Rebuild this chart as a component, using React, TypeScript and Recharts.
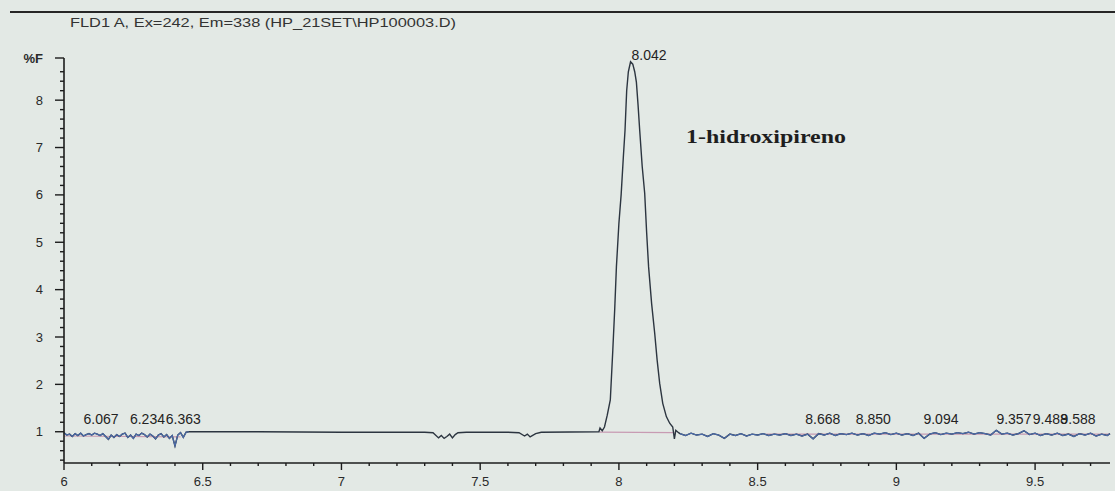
import React from "react";
import { ComposedChart, Line, Scatter, XAxis, YAxis } from "recharts";

// retention time (min) / fluorescence (%F)
const leftNoise = [
  [6.0, 0.98], [6.01, 0.93], [6.02, 0.95], [6.03, 0.9], [6.04, 0.96], [6.05, 0.92],
  [6.06, 0.97], [6.07, 0.91], [6.08, 0.94], [6.09, 0.96], [6.1, 0.93], [6.11, 0.97],
  [6.12, 0.95], [6.13, 0.92], [6.14, 0.96], [6.15, 0.9], [6.16, 0.84], [6.17, 0.93],
  [6.18, 0.88], [6.19, 0.94], [6.2, 0.9], [6.21, 0.95], [6.22, 0.97], [6.23, 0.88],
  [6.24, 0.93], [6.25, 0.86], [6.26, 0.95], [6.27, 0.92], [6.28, 0.97], [6.29, 0.94],
  [6.3, 0.89], [6.31, 0.95], [6.32, 0.91], [6.33, 0.85], [6.34, 0.93], [6.35, 0.96],
  [6.36, 0.89], [6.37, 0.94], [6.38, 0.86], [6.39, 0.92], [6.4, 0.7], [6.41, 0.93],
  [6.42, 0.98], [6.43, 0.88], [6.44, 0.99], [6.45, 1.0],
];

const flatMid = [
  [6.46, 1.0], [6.7, 1.0], [7.0, 0.99], [7.3, 0.99], [7.33, 0.98], [7.35, 0.87],
  [7.36, 0.92], [7.37, 0.86], [7.38, 0.9], [7.39, 0.95], [7.4, 0.87], [7.41, 0.94],
  [7.42, 0.98], [7.45, 0.99], [7.6, 0.99], [7.64, 0.98], [7.66, 0.91], [7.67, 0.95],
  [7.68, 0.89], [7.7, 0.96], [7.72, 0.99], [7.928, 1.0],
];

const peak = [
  [7.932, 1.08], [7.94, 1.02], [7.948, 1.1], [7.958, 1.35], [7.969, 1.67], [7.978, 2.72],
  [7.985, 3.6], [7.991, 4.48], [8.0, 5.4], [8.008, 6.0], [8.016, 6.8], [8.022, 7.36],
  [8.028, 8.2], [8.034, 8.6], [8.042, 8.81], [8.05, 8.76], [8.057, 8.6], [8.063, 8.38],
  [8.069, 7.9], [8.075, 7.36], [8.084, 6.6], [8.093, 6.03], [8.1, 5.2], [8.107, 4.48],
  [8.118, 3.7], [8.129, 3.08], [8.138, 2.5], [8.147, 2.02], [8.158, 1.6], [8.171, 1.32],
  [8.183, 1.18], [8.194, 1.1], [8.2, 0.85], [8.205, 1.03], [8.215, 0.98],
];

const rightNoise = [
  [8.22, 0.96], [8.24, 0.92], [8.26, 0.97], [8.28, 0.93], [8.3, 0.95], [8.32, 0.9],
  [8.34, 0.96], [8.36, 0.93], [8.38, 0.86], [8.4, 0.95], [8.42, 0.92], [8.44, 0.96],
  [8.46, 0.91], [8.48, 0.95], [8.5, 0.93], [8.52, 0.96], [8.54, 0.92], [8.56, 0.95],
  [8.58, 0.93], [8.6, 0.96], [8.62, 0.92], [8.64, 0.95], [8.66, 0.91], [8.68, 0.95],
  [8.7, 0.85], [8.72, 0.96], [8.74, 0.93], [8.76, 0.97], [8.78, 0.92], [8.8, 0.96],
  [8.82, 0.94], [8.84, 0.97], [8.86, 0.93], [8.88, 0.96], [8.9, 0.92], [8.92, 0.97],
  [8.94, 0.95], [8.96, 0.98], [8.98, 0.94], [9.0, 0.97], [9.02, 0.93], [9.04, 0.96],
  [9.06, 0.92], [9.08, 0.97], [9.1, 0.86], [9.12, 0.95], [9.14, 0.98], [9.16, 0.94],
  [9.18, 0.97], [9.2, 0.95], [9.22, 0.98], [9.24, 0.96], [9.26, 0.99], [9.28, 0.95],
  [9.3, 0.98], [9.32, 0.96], [9.34, 0.93], [9.36, 1.03], [9.38, 0.95], [9.4, 0.97],
  [9.42, 0.93], [9.44, 0.96], [9.46, 1.02], [9.48, 0.94], [9.5, 0.97], [9.52, 0.92],
  [9.54, 0.96], [9.56, 0.93], [9.58, 0.97], [9.6, 0.92], [9.62, 0.95], [9.64, 0.9],
  [9.66, 0.96], [9.68, 0.93], [9.7, 0.97], [9.72, 0.91], [9.74, 0.95], [9.76, 0.92],
  [9.77, 0.96],
];

// integration baselines (pink)
const baselines = [
  [6.0, 0.91], [6.42, 0.89], [6.43, null],
  [7.93, 0.99], [8.2, 0.98], [8.21, null],
  [8.53, 0.95], [9.77, 0.95],
];

const peakTimes = [6.067, 6.234, 6.363, 8.042, 8.668, 8.85, 9.094, 9.357, 9.488, 9.588];
const peakLabels = ["6.067", "6.234", "6.363", "8.042", "8.668", "8.850", "9.094", "9.357", "9.488", "9.588"];
const labelHeights = [1.16, 1.16, 1.16, 8.84, 1.17, 1.17, 1.17, 1.17, 1.17, 1.17];

const xTicks = [
  6.0, 6.1, 6.2, 6.3, 6.4, 6.5, 6.6, 6.7, 6.8, 6.9, 7.0, 7.1, 7.2, 7.3, 7.4, 7.5, 7.6, 7.7, 7.8, 7.9,
  8.0, 8.1, 8.2, 8.3, 8.4, 8.5, 8.6, 8.7, 8.8, 8.9, 9.0, 9.1, 9.2, 9.3, 9.4, 9.5, 9.6, 9.7,
];
const yTicks = [
  0.4, 0.6, 0.8, 1, 1.2, 1.4, 1.6, 1.8, 2, 2.2, 2.4, 2.6, 2.8, 3, 3.2, 3.4, 3.6, 3.8, 4, 4.2, 4.4,
  4.6, 4.8, 5, 5.2, 5.4, 5.6, 5.8, 6, 6.2, 6.4, 6.6, 6.8, 7, 7.2, 7.4, 7.6, 7.8, 8, 8.2, 8.4, 8.6, 8.89,
];
const yTop = 8.89;

const toRows = (pts: (number | null)[][]) => pts.map(([t, f]) => ({ t, f }));
const trace = toRows([...leftNoise, ...flatMid, ...peak, ...rightNoise]);
const peakRows = peakTimes.map((t, i) => ({ t, y: labelHeights[i], label: peakLabels[i] }));

const FONT = '"Liberation Sans", Arial, sans-serif';
const AXIS = "#1c1c1c";

const XTick = (props: any) => {
  const { x, y, payload } = props;
  const v = payload.value;
  const major = Math.abs(v * 2 - Math.round(v * 2)) < 1e-6;
  return (
    <g>
      <line x1={x} x2={x} y1={y} y2={y + (major ? 7 : 3)} stroke={AXIS} strokeWidth={1.4} />
      {major && (
        <text x={x} y={y + 23} textAnchor="middle" fontSize={13} fontFamily={FONT} fill="#2a2a2a">
          {Number(v.toFixed(1)).toString()}
        </text>
      )}
    </g>
  );
};

const YTick = (props: any) => {
  const { x, y, payload } = props;
  const v = payload.value;
  const isTop = Math.abs(v - yTop) < 1e-6;
  const major = isTop || Math.abs(v - Math.round(v)) < 1e-6;
  return (
    <g>
      <line x1={x - (major ? 9 : 4)} x2={x} y1={y} y2={y} stroke={AXIS} strokeWidth={1.4} />
      {major && (
        <text x={x - 21} y={y + 4.5} textAnchor="end" fontSize={13} fontFamily={FONT} fill="#2a2a2a"
          fontWeight={isTop ? "bold" : "normal"}>
          {isTop ? "%F" : String(Math.round(v))}
        </text>
      )}
    </g>
  );
};

const PeakLabel = (props: any) => {
  const { cx, cy, payload } = props;
  return (
    <text x={cx + 1} y={cy} fontSize={14} fontFamily={FONT} fill="#232323">
      {payload.label}
    </text>
  );
};

export default function App() {
  return (
    <div style={{ position: "absolute", left: 0, top: 0, width: 1115, height: 491, background: "#e3e9e5", overflow: "hidden" }}>
      <ComposedChart width={1115} height={491} margin={{ top: 58, right: 5, left: 0, bottom: 0 }}>
        <XAxis dataKey="t" type="number" domain={[6, 9.77]} ticks={xTicks}
          height={28} tickSize={0} tickMargin={0} tickLine={false} tick={XTick} interval={0}
          axisLine={{ stroke: AXIS, strokeWidth: 1.6 }} />
        <YAxis type="number" domain={[0.34, yTop]} ticks={yTicks} width={64}
          tickSize={0} tickMargin={0} tickLine={false} tick={YTick} interval={0}
          axisLine={{ stroke: AXIS, strokeWidth: 1.6 }} />
        <Line data={toRows(baselines)} dataKey="f" stroke="#c89bb3" strokeWidth={1.2} dot={false}
          connectNulls={false} isAnimationActive={false} />
        <Line data={trace} dataKey="f" stroke="#2c3540" strokeWidth={1.4} dot={false} isAnimationActive={false} />
        <Line data={toRows(leftNoise)} dataKey="f" stroke="#4a6aa8" strokeWidth={1.2} dot={false} isAnimationActive={false} />
        <Line data={toRows(rightNoise)} dataKey="f" stroke="#4a6aa8" strokeWidth={1.2} dot={false} isAnimationActive={false} />
        <Scatter data={peakRows} dataKey="y" shape={PeakLabel} isAnimationActive={false} />
      </ComposedChart>
      <svg width={1115} height={491} style={{ position: "absolute", left: 0, top: 0, pointerEvents: "none" }}>
        <line x1={10} x2={1115} y1={12} y2={12} stroke="#262626" strokeWidth={2} />
        <text x={70} y={27} fontSize={12} fontFamily={FONT} fill="#333" textLength={386} lengthAdjust="spacingAndGlyphs">
          FLD1 A, Ex=242, Em=338 (HP_21SET\HP100003.D)
        </text>
        <text x={686} y={143} fontSize={19} fontFamily='"Liberation Serif", "DejaVu Serif", serif' fontWeight="bold"
          fill="#1e1e1e" textLength={160} lengthAdjust="spacingAndGlyphs">
          1-hidroxipireno
        </text>
      </svg>
    </div>
  );
}
